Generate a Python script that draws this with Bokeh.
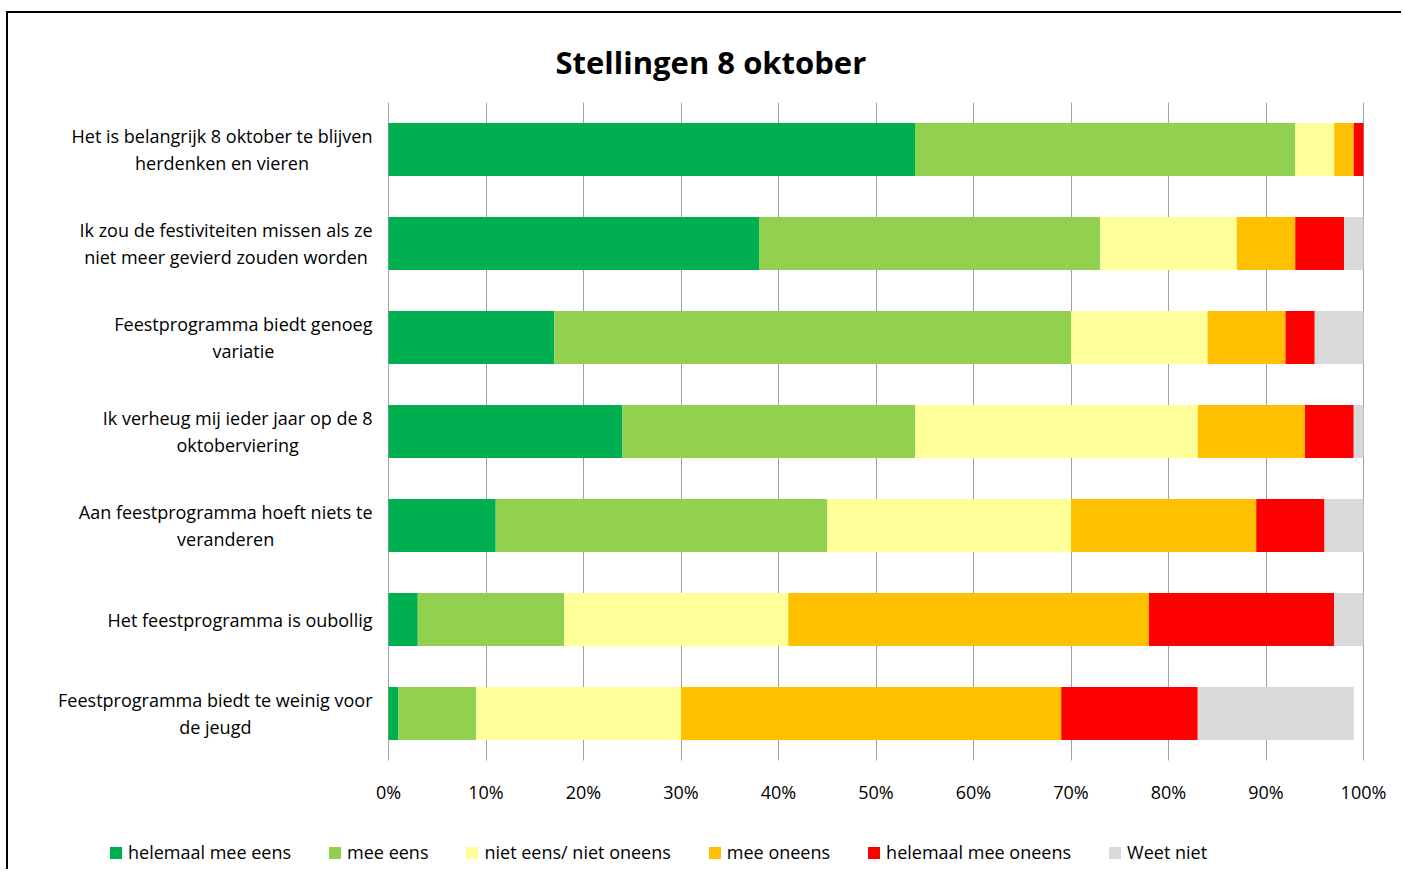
from bokeh.plotting import figure
from bokeh.models import (ColumnDataSource, Range1d, FixedTicker, PrintfTickFormatter,
                          Legend, LegendItem)
from bokeh.core.properties import value
from bokeh.embed import file_html
from bokeh.resources import INLINE

categories = [
    "Het is belangrijk 8 oktober te blijven\nherdenken en vieren",
    "Ik zou de festiviteiten missen als ze\nniet meer gevierd zouden worden",
    "Feestprogramma biedt genoeg\nvariatie",
    "Ik verheug mij ieder jaar op de 8\noktoberviering",
    "Aan feestprogramma hoeft niets te\nveranderen",
    "Het feestprogramma is oubollig",
    "Feestprogramma biedt te weinig voor\nde jeugd",
]
series_names = ["helemaal mee eens", "mee eens", "niet eens/ niet oneens",
                "mee oneens", "helemaal mee oneens", "Weet niet"]
helemaal_mee_eens = [54, 38, 17, 24, 11, 3, 1]
mee_eens = [39, 35, 53, 30, 34, 15, 8]
niet_eens_niet_oneens = [4, 14, 14, 29, 25, 23, 21]
mee_oneens = [2, 6, 8, 11, 19, 37, 39]
helemaal_mee_oneens = [1, 5, 3, 5, 7, 19, 14]
weet_niet = [0, 2, 5, 1, 4, 3, 16]
colors = ["#00B050", "#92D050", "#FFFF99", "#FFC000", "#FF0000", "#D9D9D9"]
tick_values = [0, 10, 20, 30, 40, 50, 60, 70, 80, 90, 100]

keys = ["s0", "s1", "s2", "s3", "s4", "s5"]
source = ColumnDataSource(data=dict(
    y=list(range(len(categories))),
    label=categories,
    s0=helemaal_mee_eens, s1=mee_eens, s2=niet_eens_niet_oneens,
    s3=mee_oneens, s4=helemaal_mee_oneens, s5=weet_niet,
))

FONT = "Open Sans"

# layout (pixels): the frame also holds the category labels on its left,
# room for the last tick label on its right and the legend under the bars
LABEL_AREA = 369
BAR_AREA = 975
RIGHT_AREA = 36
BARS_HEIGHT = 658
LEGEND_AREA = 109
n = len(categories)
x_start = -100.0 * LABEL_AREA / BAR_AREA
x_end = 100.0 + 100.0 * RIGHT_AREA / BAR_AREA
y_bottom = n - 0.5 + n * LEGEND_AREA / BARS_HEIGHT

p = figure(frame_width=LABEL_AREA + BAR_AREA + RIGHT_AREA,
           frame_height=BARS_HEIGHT + LEGEND_AREA,
           min_border_left=11, min_border_right=2,
           min_border_top=89, min_border_bottom=0,
           x_range=Range1d(x_start, x_end), y_range=Range1d(y_bottom, -0.5),
           y_axis_location=None, toolbar_location=None, output_backend="svg",
           title="Stellingen 8 oktober")
p.margin = (11, 0, 0, 6)
p.styles = {"border-left": "2px solid black", "border-top": "2px solid black"}
p.outline_line_color = None
p.background_fill_color = "white"
p.border_fill_color = "white"

p.title.align = "left"
p.title.offset = 536
p.title.text_font = FONT
p.title.text_font_size = "31px"
p.title.text_font_style = "bold"
p.title.text_color = "black"
p.title.standoff = 40

renderers = p.hbar_stack(keys, y="y", height=0.565, color=colors, line_color=None,
                         source=source)

p.text(x=0, y="y", text="label", source=source, x_offset=-16,
       anchor="center_right", text_align="center", text_baseline="middle",
       text_font=value(FONT), text_font_size="18px", text_line_height=1.12,
       text_color="black")

p.xgrid.ticker = FixedTicker(ticks=tick_values)
p.xgrid.cross_bounds = (-0.5, n - 0.5)
p.xgrid.grid_line_color = "#a0a0a0"
p.xgrid.grid_line_width = 1
p.ygrid.grid_line_color = None
p.xaxis.fixed_location = n - 0.5
p.xaxis.ticker = FixedTicker(ticks=tick_values)
p.xaxis.formatter = PrintfTickFormatter(format="%d%%")
p.xaxis.axis_line_color = None
p.xaxis.major_tick_line_color = None
p.xaxis.minor_tick_line_color = None
p.xaxis.major_label_standoff = 13
p.xaxis.major_label_text_font = FONT
p.xaxis.major_label_text_font_size = "18px"
p.xaxis.major_label_text_color = "black"

items = [LegendItem(label=s, renderers=[r]) for s, r in zip(series_names, renderers)]
legend = Legend(items=items, orientation="horizontal", location=(89, 5),
                glyph_width=15, glyph_height=15, label_standoff=5, spacing=36,
                padding=0, margin=0, border_line_color=None, background_fill_alpha=0,
                label_text_font=FONT, label_text_font_size="18px", label_text_color="black")
p.add_layout(legend, "center")

open("out.html", "w").write(file_html(p, INLINE))
